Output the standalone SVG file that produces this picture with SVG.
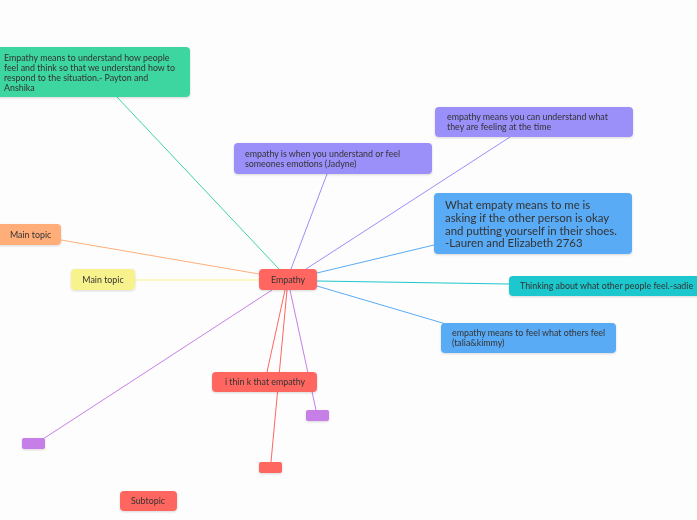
<svg xmlns="http://www.w3.org/2000/svg" width="697" height="520" viewBox="0 0 697 520">
<defs>
<filter id="sh" x="-10%" y="-20%" width="120%" height="150%"><feDropShadow dx="0" dy="1" stdDeviation="1" flood-color="#000" flood-opacity="0.15"/></filter>
</defs>
<style>
.n{filter:url(#sh)}
.t{font-family:"Lato","Liberation Sans",sans-serif;font-size:8.85px;fill:#333}
.tb{font-family:"Lato","Liberation Sans",sans-serif;font-size:11.4px;fill:#333}
.c{text-anchor:middle}
.ln{fill:none;stroke-width:1}
</style>
<rect width="697" height="520" fill="#fdfdfd"/>
<g id="connectors">
<line class="ln" x1="117" y1="97" x2="279" y2="269" stroke="#3dd5a0"/>
<line class="ln" x1="327" y1="174" x2="291" y2="269" stroke="#9b8ffa"/>
<line class="ln" x1="510" y1="137" x2="306" y2="269" stroke="#9b8ffa"/>
<line class="ln" x1="434" y1="245" x2="317" y2="273" stroke="#5aabf5"/>
<line class="ln" x1="61" y1="240" x2="259" y2="274" stroke="#ffae7a"/>
<line class="ln" x1="135" y1="280" x2="259" y2="280" stroke="#f7f28c"/>
<line class="ln" x1="317" y1="281" x2="509" y2="284" stroke="#1ec8cd"/>
<line class="ln" x1="317" y1="286" x2="446" y2="324" stroke="#5aabf5"/>
<line class="ln" x1="285" y1="290" x2="267" y2="372" stroke="#ff6661"/>
<line class="ln" x1="287" y1="290" x2="271" y2="462" stroke="#ff6661"/>
<line class="ln" x1="290" y1="290" x2="316" y2="410" stroke="#c77fe8"/>
<line class="ln" x1="272" y1="290" x2="43" y2="439" stroke="#c77fe8"/>
</g>
<g id="n-green" class="n"><rect x="-4" y="47" width="194" height="50" rx="4" fill="#3dd5a0"/>
<text class="t" x="4" y="61">Empathy means to understand how people</text>
<text class="t" x="4" y="71">feel and think so that we understand how to</text>
<text class="t" x="4" y="81">respond to the situation.- Payton and</text>
<text class="t" x="4" y="91">Anshika</text></g>
<g id="n-jadyne" class="n"><rect x="234" y="143" width="198" height="31" rx="4" fill="#9b8ffa"/>
<text class="t" x="245" y="157">empathy is when you understand or feel</text>
<text class="t" x="245" y="167">someones emotions (Jadyne)</text></g>
<g id="n-time" class="n"><rect x="435" y="107" width="198" height="30" rx="4" fill="#9b8ffa"/>
<text class="t" x="447" y="120">empathy means you can understand what</text>
<text class="t" x="447" y="130">they are feeling at the time</text></g>
<g id="n-lauren" class="n"><rect x="434" y="193" width="198" height="61" rx="4" fill="#5aabf5"/>
<text class="tb" x="445" y="209">What empaty means to me is</text>
<text class="tb" x="445" y="222">asking if the other person is okay</text>
<text class="tb" x="445" y="235">and putting yourself in their shoes.</text>
<text class="tb" x="445" y="247">-Lauren and Elizabeth 2763</text></g>
<g id="n-main1" class="n"><rect x="-4" y="224" width="65" height="21" rx="4" fill="#ffae7a"/>
<text class="t" x="10" y="238">Main topic</text></g>
<g id="n-main2" class="n"><rect x="71" y="269" width="64" height="21" rx="4" fill="#f7f28c"/>
<text class="t c" x="103" y="283">Main topic</text></g>
<g id="n-center" class="n"><rect x="259" y="269" width="58" height="21" rx="4" fill="#ff6661"/>
<text class="t c" x="288" y="283">Empathy</text></g>
<g id="n-sadie" class="n"><rect x="509" y="276" width="194" height="20" rx="4" fill="#1ec8cd"/>
<text class="t" x="520" y="289">Thinking about what other people feel.-sadie</text></g>
<g id="n-talia" class="n"><rect x="441" y="323" width="175" height="30" rx="4" fill="#5aabf5"/>
<text class="t" x="452" y="336">empathy means to feel what others feel</text>
<text class="t" x="452" y="346">(talia&amp;kimmy)</text></g>
<g id="n-think" class="n"><rect x="212" y="372" width="105" height="20" rx="4" fill="#ff6661"/>
<text class="t c" x="265" y="385">i thin k that empathy</text></g>
<g id="n-small-red" class="n"><rect x="259" y="462" width="23" height="11" rx="2" fill="#ff6661"/></g>
<g id="n-small-purple1" class="n"><rect x="306" y="410" width="23" height="11" rx="2" fill="#c77fe8"/></g>
<g id="n-small-purple2" class="n"><rect x="22" y="438" width="23" height="11" rx="2" fill="#c77fe8"/></g>
<g id="n-subtopic" class="n"><rect x="120" y="491" width="57" height="20" rx="4" fill="#ff6661"/>
<text class="t c" x="148" y="504">Subtopic</text></g>
</svg>
